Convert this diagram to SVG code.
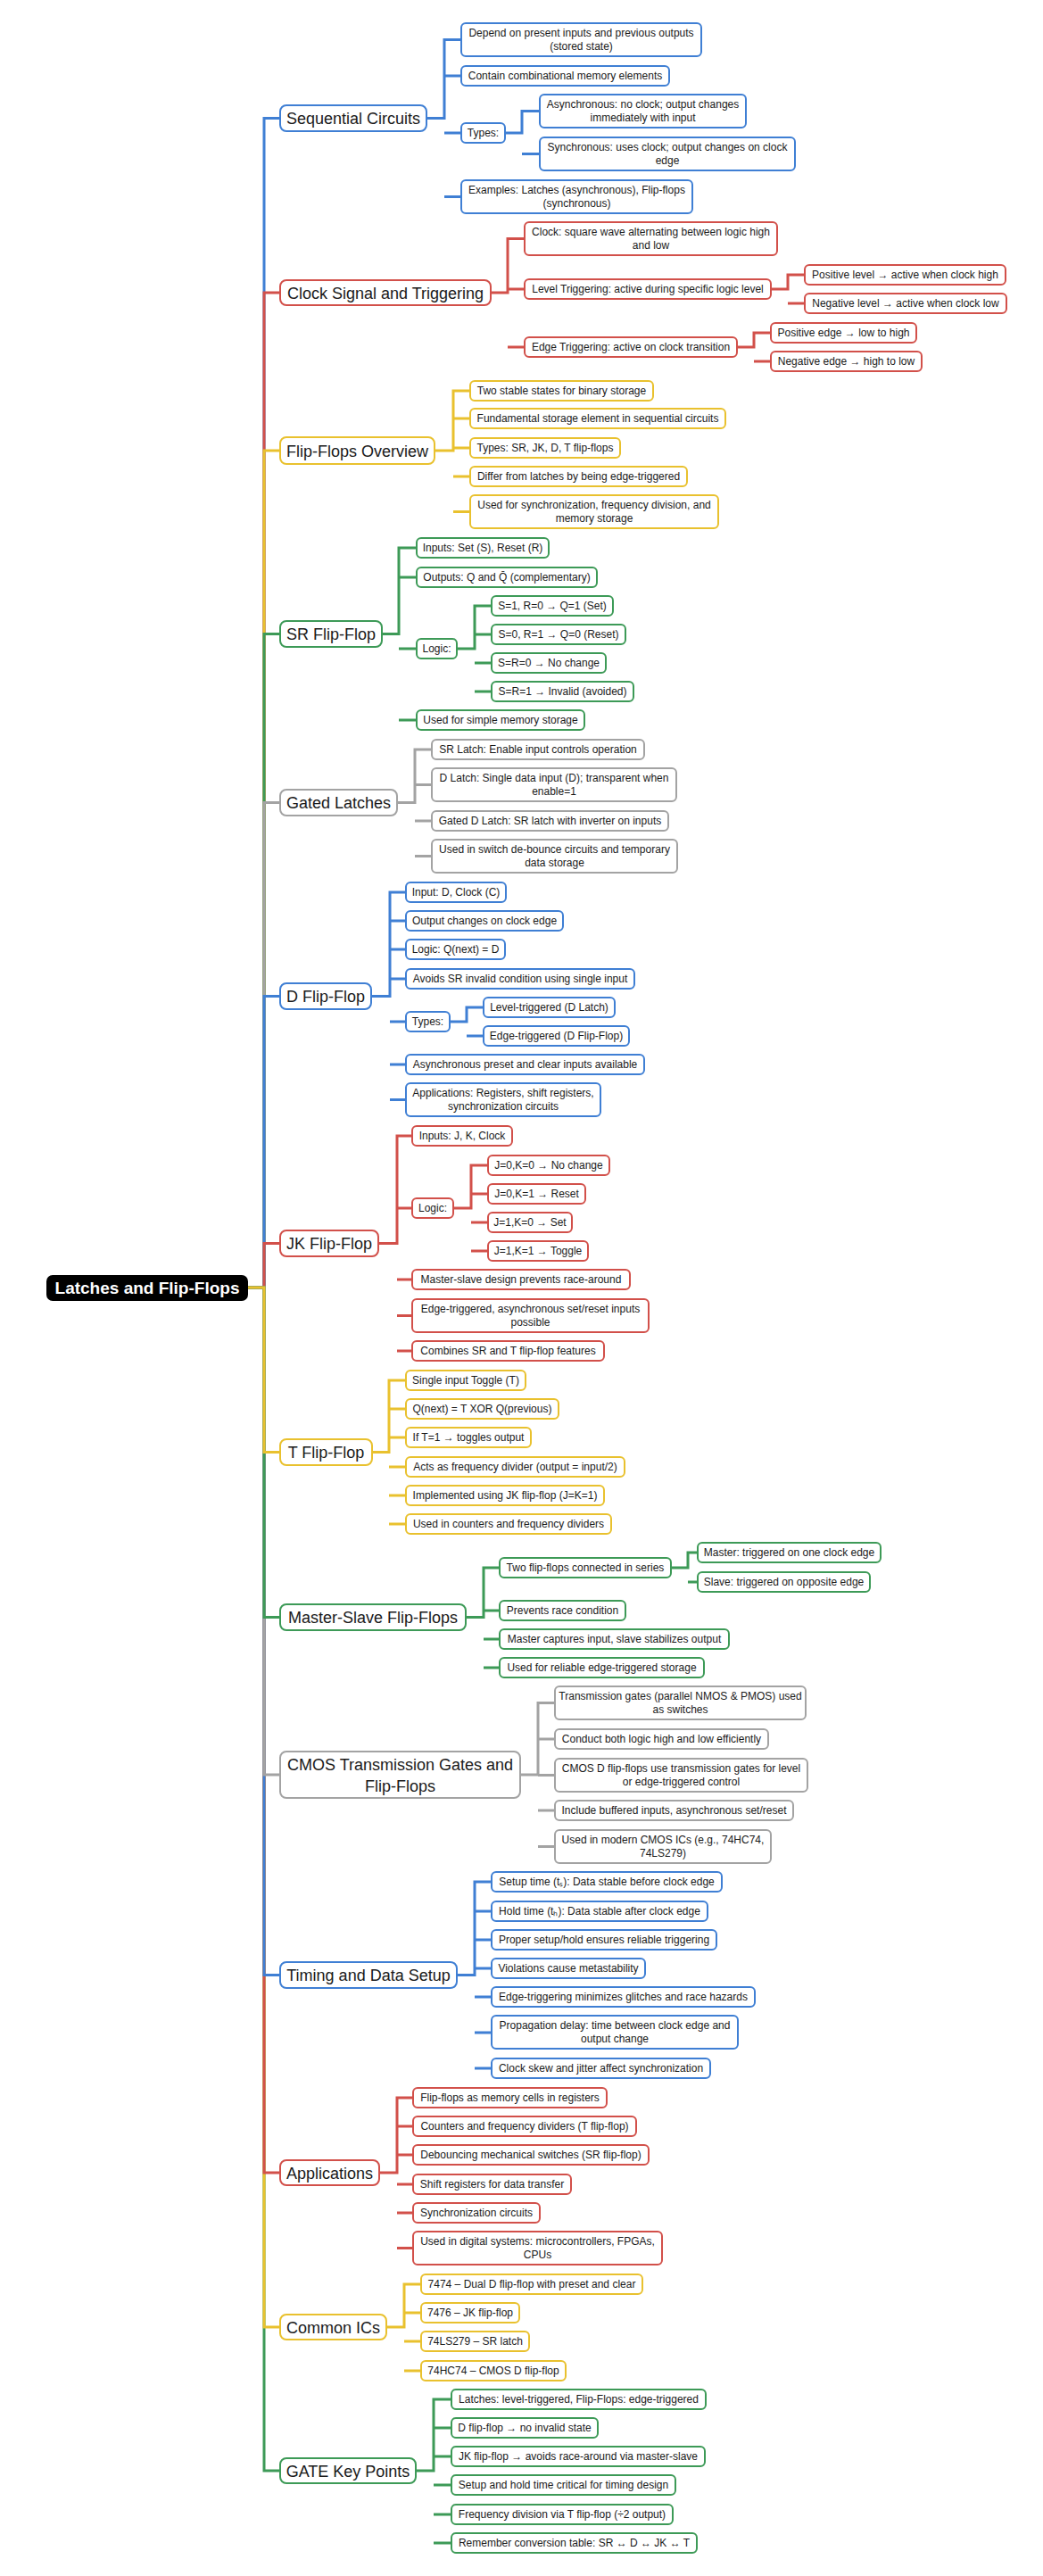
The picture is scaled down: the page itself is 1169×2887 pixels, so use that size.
<svg xmlns="http://www.w3.org/2000/svg" width="1169" height="2887" viewBox="0 0 1169 2887">
<style>
rect.n{fill:#fff;stroke-width:2}
.bl rect,path.bl{stroke:#3f7fd4}
.rd rect,path.rd{stroke:#d2504a}
.ye rect,path.ye{stroke:#e9c12e}
.gr rect,path.gr{stroke:#3d9a57}
.gy rect,path.gy{stroke:#a3a3a3}
path{fill:none;stroke-width:3}
text{font-family:"Liberation Sans",Arial,sans-serif;font-size:12px;fill:#1a1a1a;text-anchor:middle}
text.m{font-size:18px}
text.r{font-size:19px;font-weight:bold;fill:#fff}
</style>
<rect width="1169" height="2887" fill="#fff"/>
<g id="connectors">
<path class="bl" d="M278,1443H296V132.5H314"/>
<path class="rd" d="M278,1443H296V328H314"/>
<path class="ye" d="M278,1443H296V505H314"/>
<path class="gr" d="M278,1443H296V710.5H314"/>
<path class="gy" d="M278,1443H296V899.5H314"/>
<path class="bl" d="M278,1443H296V1116.5H314"/>
<path class="rd" d="M278,1443H296V1393.5H314"/>
<path class="gr" d="M278,1443H296V2769H314"/>
<path class="ye" d="M278,1443H296V2608H314"/>
<path class="rd" d="M278,1443H296V2435H314"/>
<path class="bl" d="M278,1443H296V2213.5H314"/>
<path class="gy" d="M278,1443H296V1989H314"/>
<path class="gr" d="M278,1443H296V1812.5H314"/>
<path class="ye" d="M278,1443H296V1627.5H314"/>
<path class="bl" d="M478,132.5H498V44.5H517M498,85H517M498,149H517M498,220.5H517M566,149H585V124.5H605M585,172.5H605"/>
<path class="rd" d="M550,328H569V267.5H588M569,324H588M569,389H588M864,324H883V308H902M883,340H902M826,389H845V373H864M845,405H864"/>
<path class="ye" d="M487,505H508V438H527M508,469H527M508,502H527M508,534H527M508,573.5H527"/>
<path class="gr" d="M428,710.5H447V614H467M447,647H467M447,727H467M447,807H467M512,727H532V679H551M532,711H551M532,743H551M532,775H551"/>
<path class="gy" d="M445,899.5H465V840H484M465,879.5H484M465,920H484M465,959.5H484"/>
<path class="bl" d="M416,1116.5H437V1000H455M437,1032H455M437,1064H455M437,1097H455M437,1145H455M437,1193H455M437,1232.5H455M504,1145H523V1129H542M523,1161H542"/>
<path class="rd" d="M424,1393.5H445V1273H462M445,1354H462M445,1434H462M445,1474.5H462M445,1514H462M508,1354H528V1306H547M528,1338H547M528,1370H547M528,1402H547"/>
<path class="ye" d="M417,1627.5H436V1547H455M436,1579H455M436,1611H455M436,1644H455M436,1676H455M436,1708H455"/>
<path class="gr" d="M522,1812.5H542V1757H560M542,1805H560M542,1837H560M542,1869H560M752,1757H771V1740H782M771,1773H782"/>
<path class="gy" d="M583,1989H603V1908.5H622M603,1949H622M603,1989.5H622M603,2029H622M603,2069.5H622"/>
<path class="bl" d="M512,2213.5H532V2109H551M532,2142H551M532,2174H551M532,2206H551M532,2238H551M532,2278H551M532,2318H551"/>
<path class="rd" d="M425,2435H445V2351H463M445,2383H463M445,2415H463M445,2448H463M445,2480H463M445,2519.5H463"/>
<path class="ye" d="M433,2608H453V2560H472M453,2592H472M453,2624H472M453,2657H472"/>
<path class="gr" d="M466,2769H486V2689H506M486,2721H506M486,2753H506M486,2785H506M486,2818H506M486,2850H506"/>
</g>
<g id="root"><rect x="52" y="1429" width="226" height="29" rx="7" fill="#000"/><text class="r" x="165" y="1450">Latches and Flip-Flops</text></g>

<g id="seq" class="bl"><rect class="n" x="314" y="118" width="164" height="29" rx="7"/><text class="m" x="396" y="139">Sequential Circuits</text></g>
<g id="seq1" class="bl"><rect class="n" x="517" y="26" width="269" height="37" rx="5"/><text x="651.5" y="41">Depend on present inputs and previous outputs</text><text x="651.5" y="56">(stored state)</text></g>
<g id="seq2" class="bl"><rect class="n" x="517" y="74" width="233" height="22" rx="5"/><text x="633.5" y="89">Contain combinational memory elements</text></g>
<g id="seq3" class="bl"><rect class="n" x="517" y="138" width="49" height="22" rx="5"/><text x="541.5" y="153">Types:</text></g>
<g id="seq3a" class="bl"><rect class="n" x="605" y="106" width="231" height="37" rx="5"/><text x="720.5" y="121">Asynchronous: no clock; output changes</text><text x="720.5" y="136">immediately with input</text></g>
<g id="seq3b" class="bl"><rect class="n" x="605" y="154" width="286" height="37" rx="5"/><text x="748" y="169">Synchronous: uses clock; output changes on clock</text><text x="748" y="184">edge</text></g>
<g id="seq4" class="bl"><rect class="n" x="517" y="202" width="259" height="37" rx="5"/><text x="646.5" y="217">Examples: Latches (asynchronous), Flip-flops</text><text x="646.5" y="232">(synchronous)</text></g>

<g id="clk" class="rd"><rect class="n" x="314" y="314" width="236" height="28" rx="7"/><text class="m" x="432" y="334.5">Clock Signal and Triggering</text></g>
<g id="clk1" class="rd"><rect class="n" x="588" y="249" width="283" height="37" rx="5"/><text x="729.5" y="264">Clock: square wave alternating between logic high</text><text x="729.5" y="279">and low</text></g>
<g id="clk2" class="rd"><rect class="n" x="588" y="313" width="276" height="22" rx="5"/><text x="726" y="328">Level Triggering: active during specific logic level</text></g>
<g id="clk2a" class="rd"><rect class="n" x="902" y="297" width="225" height="22" rx="5"/><text x="1014.5" y="312">Positive level → active when clock high</text></g>
<g id="clk2b" class="rd"><rect class="n" x="902" y="329" width="226" height="22" rx="5"/><text x="1015" y="344">Negative level → active when clock low</text></g>
<g id="clk3" class="rd"><rect class="n" x="588" y="378" width="238" height="22" rx="5"/><text x="707" y="393">Edge Triggering: active on clock transition</text></g>
<g id="clk3a" class="rd"><rect class="n" x="864" y="362" width="163" height="22" rx="5"/><text x="945.5" y="377">Positive edge → low to high</text></g>
<g id="clk3b" class="rd"><rect class="n" x="864" y="394" width="169" height="22" rx="5"/><text x="948.5" y="409">Negative edge → high to low</text></g>

<g id="ffo" class="ye"><rect class="n" x="314" y="490" width="173" height="30" rx="7"/><text class="m" x="400.5" y="511.5">Flip-Flops Overview</text></g>
<g id="ffo1" class="ye"><rect class="n" x="527" y="427" width="205" height="22" rx="5"/><text x="629.5" y="442">Two stable states for binary storage</text></g>
<g id="ffo2" class="ye"><rect class="n" x="527" y="458" width="286" height="22" rx="5"/><text x="670" y="473">Fundamental storage element in sequential circuits</text></g>
<g id="ffo3" class="ye"><rect class="n" x="527" y="491" width="168" height="22" rx="5"/><text x="611" y="506">Types: SR, JK, D, T flip-flops</text></g>
<g id="ffo4" class="ye"><rect class="n" x="527" y="523" width="243" height="22" rx="5"/><text x="648.5" y="538">Differ from latches by being edge-triggered</text></g>
<g id="ffo5" class="ye"><rect class="n" x="527" y="555" width="278" height="37" rx="5"/><text x="666" y="570">Used for synchronization, frequency division, and</text><text x="666" y="585">memory storage</text></g>

<g id="sr" class="gr"><rect class="n" x="314" y="696" width="114" height="29" rx="7"/><text class="m" x="371" y="717">SR Flip-Flop</text></g>
<g id="sr1" class="gr"><rect class="n" x="467" y="603" width="148" height="22" rx="5"/><text x="541" y="618">Inputs: Set (S), Reset (R)</text></g>
<g id="sr2" class="gr"><rect class="n" x="467" y="636" width="202" height="22" rx="5"/><text x="568" y="651">Outputs: Q and Q̄ (complementary)</text></g>
<g id="sr3" class="gr"><rect class="n" x="467" y="716" width="45" height="22" rx="5"/><text x="489.5" y="731">Logic:</text></g>
<g id="sr3a" class="gr"><rect class="n" x="551" y="668" width="136" height="22" rx="5"/><text x="619" y="683">S=1, R=0 → Q=1 (Set)</text></g>
<g id="sr3b" class="gr"><rect class="n" x="551" y="700" width="150" height="22" rx="5"/><text x="626" y="715">S=0, R=1 → Q=0 (Reset)</text></g>
<g id="sr3c" class="gr"><rect class="n" x="551" y="732" width="128" height="22" rx="5"/><text x="615" y="747">S=R=0 → No change</text></g>
<g id="sr3d" class="gr"><rect class="n" x="551" y="764" width="159" height="22" rx="5"/><text x="630.5" y="779">S=R=1 → Invalid (avoided)</text></g>
<g id="sr4" class="gr"><rect class="n" x="467" y="796" width="188" height="22" rx="5"/><text x="561" y="811">Used for simple memory storage</text></g>

<g id="gl" class="gy"><rect class="n" x="314" y="885" width="131" height="29" rx="7"/><text class="m" x="379.5" y="906">Gated Latches</text></g>
<g id="gl1" class="gy"><rect class="n" x="484" y="829" width="238" height="22" rx="5"/><text x="603" y="844">SR Latch: Enable input controls operation</text></g>
<g id="gl2" class="gy"><rect class="n" x="484" y="861" width="274" height="37" rx="5"/><text x="621" y="876">D Latch: Single data input (D); transparent when</text><text x="621" y="891">enable=1</text></g>
<g id="gl3" class="gy"><rect class="n" x="484" y="909" width="265" height="22" rx="5"/><text x="616.5" y="924">Gated D Latch: SR latch with inverter on inputs</text></g>
<g id="gl4" class="gy"><rect class="n" x="484" y="941" width="275" height="37" rx="5"/><text x="621.5" y="956">Used in switch de-bounce circuits and temporary</text><text x="621.5" y="971">data storage</text></g>

<g id="dff" class="bl"><rect class="n" x="314" y="1102" width="102" height="29" rx="7"/><text class="m" x="365" y="1123">D Flip-Flop</text></g>
<g id="dff1" class="bl"><rect class="n" x="455" y="989" width="112" height="22" rx="5"/><text x="511" y="1004">Input: D, Clock (C)</text></g>
<g id="dff2" class="bl"><rect class="n" x="455" y="1021" width="176" height="22" rx="5"/><text x="543" y="1036">Output changes on clock edge</text></g>
<g id="dff3" class="bl"><rect class="n" x="455" y="1053" width="111" height="22" rx="5"/><text x="510.5" y="1068">Logic: Q(next) = D</text></g>
<g id="dff4" class="bl"><rect class="n" x="455" y="1086" width="256" height="22" rx="5"/><text x="583" y="1101">Avoids SR invalid condition using single input</text></g>
<g id="dff5" class="bl"><rect class="n" x="455" y="1134" width="49" height="22" rx="5"/><text x="479.5" y="1149">Types:</text></g>
<g id="dff5a" class="bl"><rect class="n" x="542" y="1118" width="147" height="22" rx="5"/><text x="615.5" y="1133">Level-triggered (D Latch)</text></g>
<g id="dff5b" class="bl"><rect class="n" x="542" y="1150" width="163" height="22" rx="5"/><text x="623.5" y="1165">Edge-triggered (D Flip-Flop)</text></g>
<g id="dff6" class="bl"><rect class="n" x="455" y="1182" width="267" height="22" rx="5"/><text x="588.5" y="1197">Asynchronous preset and clear inputs available</text></g>
<g id="dff7" class="bl"><rect class="n" x="455" y="1214" width="218" height="37" rx="5"/><text x="564" y="1229">Applications: Registers, shift registers,</text><text x="564" y="1244">synchronization circuits</text></g>

<g id="jk" class="rd"><rect class="n" x="314" y="1379" width="110" height="29" rx="7"/><text class="m" x="369" y="1400">JK Flip-Flop</text></g>
<g id="jk1" class="rd"><rect class="n" x="462" y="1262" width="112" height="22" rx="5"/><text x="518" y="1277">Inputs: J, K, Clock</text></g>
<g id="jk2" class="rd"><rect class="n" x="462" y="1343" width="46" height="22" rx="5"/><text x="485" y="1358">Logic:</text></g>
<g id="jk2a" class="rd"><rect class="n" x="547" y="1295" width="136" height="22" rx="5"/><text x="615" y="1310">J=0,K=0 → No change</text></g>
<g id="jk2b" class="rd"><rect class="n" x="547" y="1327" width="109" height="22" rx="5"/><text x="601.5" y="1342">J=0,K=1 → Reset</text></g>
<g id="jk2c" class="rd"><rect class="n" x="547" y="1359" width="94" height="22" rx="5"/><text x="594" y="1374">J=1,K=0 → Set</text></g>
<g id="jk2d" class="rd"><rect class="n" x="547" y="1391" width="112" height="22" rx="5"/><text x="603" y="1406">J=1,K=1 → Toggle</text></g>
<g id="jk3" class="rd"><rect class="n" x="462" y="1423" width="244" height="22" rx="5"/><text x="584" y="1438">Master-slave design prevents race-around</text></g>
<g id="jk4" class="rd"><rect class="n" x="462" y="1456" width="265" height="37" rx="5"/><text x="594.5" y="1471">Edge-triggered, asynchronous set/reset inputs</text><text x="594.5" y="1486">possible</text></g>
<g id="jk5" class="rd"><rect class="n" x="462" y="1503" width="215" height="22" rx="5"/><text x="569.5" y="1518">Combines SR and T flip-flop features</text></g>

<g id="tff" class="ye"><rect class="n" x="314" y="1613" width="103" height="29" rx="7"/><text class="m" x="365.5" y="1634">T Flip-Flop</text></g>
<g id="tff1" class="ye"><rect class="n" x="455" y="1536" width="134" height="22" rx="5"/><text x="522" y="1551">Single input Toggle (T)</text></g>
<g id="tff2" class="ye"><rect class="n" x="455" y="1568" width="171" height="22" rx="5"/><text x="540.5" y="1583">Q(next) = T XOR Q(previous)</text></g>
<g id="tff3" class="ye"><rect class="n" x="455" y="1600" width="140" height="22" rx="5"/><text x="525" y="1615">If T=1 → toggles output</text></g>
<g id="tff4" class="ye"><rect class="n" x="455" y="1633" width="245" height="22" rx="5"/><text x="577.5" y="1648">Acts as frequency divider (output = input/2)</text></g>
<g id="tff5" class="ye"><rect class="n" x="455" y="1665" width="222" height="22" rx="5"/><text x="566" y="1680">Implemented using JK flip-flop (J=K=1)</text></g>
<g id="tff6" class="ye"><rect class="n" x="455" y="1697" width="230" height="22" rx="5"/><text x="570" y="1712">Used in counters and frequency dividers</text></g>

<g id="ms" class="gr"><rect class="n" x="314" y="1798" width="208" height="29" rx="7"/><text class="m" x="418" y="1819">Master-Slave Flip-Flops</text></g>
<g id="ms1" class="gr"><rect class="n" x="560" y="1746" width="192" height="22" rx="5"/><text x="656" y="1761">Two flip-flops connected in series</text></g>
<g id="ms1a" class="gr"><rect class="n" x="782" y="1729" width="205" height="22" rx="5"/><text x="884.5" y="1744">Master: triggered on one clock edge</text></g>
<g id="ms1b" class="gr"><rect class="n" x="782" y="1762" width="193" height="22" rx="5"/><text x="878.5" y="1777">Slave: triggered on opposite edge</text></g>
<g id="ms2" class="gr"><rect class="n" x="560" y="1794" width="141" height="22" rx="5"/><text x="630.5" y="1809">Prevents race condition</text></g>
<g id="ms3" class="gr"><rect class="n" x="560" y="1826" width="257" height="22" rx="5"/><text x="688.5" y="1841">Master captures input, slave stabilizes output</text></g>
<g id="ms4" class="gr"><rect class="n" x="560" y="1858" width="229" height="22" rx="5"/><text x="674.5" y="1873">Used for reliable edge-triggered storage</text></g>

<g id="cmos" class="gy"><rect class="n" x="314" y="1963" width="269" height="52" rx="7"/><text class="m" x="448.5" y="1983.5">CMOS Transmission Gates and</text><text class="m" x="448.5" y="2007.5">Flip-Flops</text></g>
<g id="cmos1" class="gy"><rect class="n" x="622" y="1890" width="281" height="37" rx="5"/><text x="762.5" y="1905">Transmission gates (parallel NMOS &amp; PMOS) used</text><text x="762.5" y="1920">as switches</text></g>
<g id="cmos2" class="gy"><rect class="n" x="622" y="1938" width="239" height="22" rx="5"/><text x="741.5" y="1953">Conduct both logic high and low efficiently</text></g>
<g id="cmos3" class="gy"><rect class="n" x="622" y="1971" width="283" height="37" rx="5"/><text x="763.5" y="1986">CMOS D flip-flops use transmission gates for level</text><text x="763.5" y="2001">or edge-triggered control</text></g>
<g id="cmos4" class="gy"><rect class="n" x="622" y="2018" width="267" height="22" rx="5"/><text x="755.5" y="2033">Include buffered inputs, asynchronous set/reset</text></g>
<g id="cmos5" class="gy"><rect class="n" x="622" y="2051" width="242" height="37" rx="5"/><text x="743" y="2066">Used in modern CMOS ICs (e.g., 74HC74,</text><text x="743" y="2081">74LS279)</text></g>

<g id="tim" class="bl"><rect class="n" x="314" y="2199" width="198" height="29" rx="7"/><text class="m" x="413" y="2220">Timing and Data Setup</text></g>
<g id="tim1" class="bl"><rect class="n" x="551" y="2098" width="258" height="22" rx="5"/><text x="680" y="2113">Setup time (tₛ): Data stable before clock edge</text></g>
<g id="tim2" class="bl"><rect class="n" x="551" y="2131" width="242" height="22" rx="5"/><text x="672" y="2146">Hold time (tₕ): Data stable after clock edge</text></g>
<g id="tim3" class="bl"><rect class="n" x="551" y="2163" width="252" height="22" rx="5"/><text x="677" y="2178">Proper setup/hold ensures reliable triggering</text></g>
<g id="tim4" class="bl"><rect class="n" x="551" y="2195" width="172" height="22" rx="5"/><text x="637" y="2210">Violations cause metastability</text></g>
<g id="tim5" class="bl"><rect class="n" x="551" y="2227" width="295" height="22" rx="5"/><text x="698.5" y="2242">Edge-triggering minimizes glitches and race hazards</text></g>
<g id="tim6" class="bl"><rect class="n" x="551" y="2259" width="276" height="37" rx="5"/><text x="689" y="2274">Propagation delay: time between clock edge and</text><text x="689" y="2289">output change</text></g>
<g id="tim7" class="bl"><rect class="n" x="551" y="2307" width="245" height="22" rx="5"/><text x="673.5" y="2322">Clock skew and jitter affect synchronization</text></g>

<g id="app" class="rd"><rect class="n" x="314" y="2421" width="111" height="28" rx="7"/><text class="m" x="369.5" y="2441.5">Applications</text></g>
<g id="app1" class="rd"><rect class="n" x="463" y="2340" width="217" height="22" rx="5"/><text x="571.5" y="2355">Flip-flops as memory cells in registers</text></g>
<g id="app2" class="rd"><rect class="n" x="463" y="2372" width="250" height="22" rx="5"/><text x="588" y="2387">Counters and frequency dividers (T flip-flop)</text></g>
<g id="app3" class="rd"><rect class="n" x="463" y="2404" width="264" height="22" rx="5"/><text x="595" y="2419">Debouncing mechanical switches (SR flip-flop)</text></g>
<g id="app4" class="rd"><rect class="n" x="463" y="2437" width="177" height="22" rx="5"/><text x="551.5" y="2452">Shift registers for data transfer</text></g>
<g id="app5" class="rd"><rect class="n" x="463" y="2469" width="142" height="22" rx="5"/><text x="534" y="2484">Synchronization circuits</text></g>
<g id="app6" class="rd"><rect class="n" x="463" y="2501" width="279" height="37" rx="5"/><text x="602.5" y="2516">Used in digital systems: microcontrollers, FPGAs,</text><text x="602.5" y="2531">CPUs</text></g>

<g id="ics" class="ye"><rect class="n" x="314" y="2594" width="119" height="28" rx="7"/><text class="m" x="373.5" y="2614.5">Common ICs</text></g>
<g id="ics1" class="ye"><rect class="n" x="472" y="2549" width="248" height="22" rx="5"/><text x="596" y="2564">7474 – Dual D flip-flop with preset and clear</text></g>
<g id="ics2" class="ye"><rect class="n" x="472" y="2581" width="110" height="22" rx="5"/><text x="527" y="2596">7476 – JK flip-flop</text></g>
<g id="ics3" class="ye"><rect class="n" x="472" y="2613" width="121" height="22" rx="5"/><text x="532.5" y="2628">74LS279 – SR latch</text></g>
<g id="ics4" class="ye"><rect class="n" x="472" y="2646" width="162" height="22" rx="5"/><text x="553" y="2661">74HC74 – CMOS D flip-flop</text></g>

<g id="gate" class="gr"><rect class="n" x="314" y="2755" width="152" height="28" rx="7"/><text class="m" x="390" y="2775.5">GATE Key Points</text></g>
<g id="gate1" class="gr"><rect class="n" x="506" y="2678" width="285" height="22" rx="5"/><text x="648.5" y="2693">Latches: level-triggered, Flip-Flops: edge-triggered</text></g>
<g id="gate2" class="gr"><rect class="n" x="506" y="2710" width="164" height="22" rx="5"/><text x="588" y="2725">D flip-flop → no invalid state</text></g>
<g id="gate3" class="gr"><rect class="n" x="506" y="2742" width="284" height="22" rx="5"/><text x="648" y="2757">JK flip-flop → avoids race-around via master-slave</text></g>
<g id="gate4" class="gr"><rect class="n" x="506" y="2774" width="251" height="22" rx="5"/><text x="631.5" y="2789">Setup and hold time critical for timing design</text></g>
<g id="gate5" class="gr"><rect class="n" x="506" y="2807" width="248" height="22" rx="5"/><text x="630" y="2822">Frequency division via T flip-flop (÷2 output)</text></g>
<g id="gate6" class="gr"><rect class="n" x="506" y="2839" width="275" height="22" rx="5"/><text x="643.5" y="2854">Remember conversion table: SR ↔ D ↔ JK ↔ T</text></g>
</svg>
